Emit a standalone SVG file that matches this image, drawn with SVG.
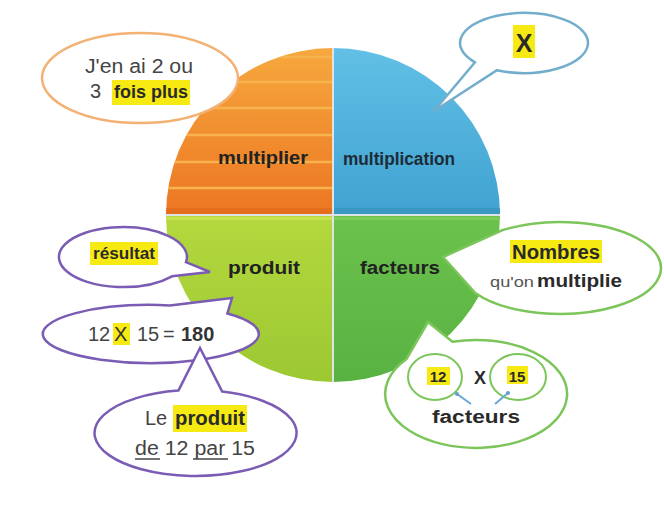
<svg xmlns="http://www.w3.org/2000/svg" width="664" height="524" viewBox="0 0 664 524">
<defs>
<linearGradient id="gOr" x1="0" y1="0" x2="0" y2="1"><stop offset="0" stop-color="#f6a83e"/><stop offset="1" stop-color="#ec7622"/></linearGradient>
<linearGradient id="gBl" x1="0" y1="0" x2="0" y2="1"><stop offset="0" stop-color="#62c0e6"/><stop offset="1" stop-color="#3fa2d0"/></linearGradient>
<linearGradient id="gYg" x1="0" y1="0" x2="0" y2="1"><stop offset="0" stop-color="#b4d83e"/><stop offset="1" stop-color="#9cc832"/></linearGradient>
<linearGradient id="gGr" x1="0" y1="0" x2="0" y2="1"><stop offset="0" stop-color="#6cc24c"/><stop offset="1" stop-color="#58b242"/></linearGradient>
<clipPath id="cOr"><path d="M333,215 L333,48 A167,167 0 0 0 166,215 Z"/></clipPath>
<marker id="dot" markerWidth="4" markerHeight="4" refX="2" refY="2" markerUnits="userSpaceOnUse"><circle cx="2" cy="2" r="2" fill="#5e9fd6"/></marker>
<style>
text{font-family:"Liberation Sans",Arial,sans-serif}
.lab{font-weight:bold;fill:#222;font-size:18px;text-anchor:middle}
.reg{fill:#444;font-size:20px}
.b{font-weight:bold;fill:#2a2a2a}
.hl{fill:#f7ea12}
.bor{fill:#fff;stroke:#f3b274;stroke-width:2.5}
.bbl{fill:#fff;stroke:#72aecb;stroke-width:2.5}
.bpu{fill:#fff;stroke:#7b5cb4;stroke-width:2.5}
.bgr{fill:#fff;stroke:#7cc55a;stroke-width:2.5}
.ring{fill:none;stroke:#7cc55a;stroke-width:2}
.con{stroke:#6aa6d6;stroke-width:2;fill:none}
</style>
</defs>
<rect width="664" height="524" fill="#fff"/>

<g id="q-multiplier">
<path d="M333,215 L333,48 A167,167 0 0 0 166,215 Z" fill="url(#gOr)"/>
<g clip-path="url(#cOr)" stroke="#f8b24e" stroke-width="2.5">
<line x1="160" y1="57" x2="335" y2="57"/><line x1="160" y1="82" x2="335" y2="82"/><line x1="160" y1="108" x2="335" y2="108"/><line x1="160" y1="135" x2="335" y2="135"/><line x1="160" y1="162" x2="335" y2="162"/><line x1="160" y1="188" x2="335" y2="188"/>
</g>
<rect x="166" y="208" width="167" height="7" fill="#e56e1e" clip-path="url(#cOr)"/>
<text class="lab" x="263" y="164" textLength="90" lengthAdjust="spacingAndGlyphs">multiplier</text>
</g>

<g id="q-multiplication">
<path d="M333,215 L333,48 A167,167 0 0 1 500,215 Z" fill="url(#gBl)"/>
<path d="M333,208 L499.8,208 A167,167 0 0 1 500,215 L333,215 Z" fill="#3a98c4"/>
<text class="lab" x="399" y="165" font-size="15" textLength="112" lengthAdjust="spacingAndGlyphs" style="fill:#1d2b36">multiplication</text>
</g>

<g id="q-produit">
<path d="M333,215 L333,382 A167,167 0 0 1 166,215 Z" fill="url(#gYg)"/>
<path d="M166,217 L333,217 L333,220 L166.1,220 Z" fill="#c6e24e"/>
<text class="lab" x="264" y="274" textLength="72" lengthAdjust="spacingAndGlyphs">produit</text>
</g>

<g id="q-facteurs">
<path d="M333,215 L333,382 A167,167 0 0 0 500,215 Z" fill="url(#gGr)"/>
<path d="M333,217 L500,217 L499.9,220 L333,220 Z" fill="#7ccc5a"/>
<text class="lab" x="400" y="274" textLength="80" lengthAdjust="spacingAndGlyphs">facteurs</text>
</g>

<g id="dividers" stroke="#dfe3e6" stroke-width="2">
<line x1="333" y1="48" x2="333" y2="382"/>
<line x1="166" y1="215" x2="500" y2="215"/>
</g>

<g id="bubble-fois-plus">
<ellipse class="bor" cx="140" cy="78" rx="98" ry="45"/>
<text class="reg" x="139" y="73" text-anchor="middle" textLength="108" lengthAdjust="spacingAndGlyphs">J'en ai 2 ou</text>
<text class="reg" x="90" y="98">3</text>
<rect class="hl" x="112" y="80" width="78" height="25"/>
<text class="b" x="151" y="98" font-size="18" text-anchor="middle" textLength="74" lengthAdjust="spacingAndGlyphs">fois plus</text>
</g>

<g id="bubble-x">
<path class="bbl" d="M475,62.3 L434,111 L497,70.2 A64,30 0 1 0 475,62.3 Z"/>
<rect class="hl" x="513" y="25" width="22" height="33"/>
<text class="b" x="524" y="52" font-size="25" text-anchor="middle">X</text>
</g>

<g id="bubble-resultat">
<path class="bpu" d="M186,262.2 L210,272 L172,276.3 A64,30 0 1 1 186,262.2 Z"/>
<rect class="hl" x="90" y="242" width="68" height="23"/>
<text class="b" x="124" y="259" font-size="16" text-anchor="middle" textLength="62" lengthAdjust="spacingAndGlyphs">résultat</text>
</g>

<g id="bubble-calcul">
<path class="bpu" d="M169.8,305.4 L232,298 L227.4,313.5 A108,29 0 1 1 169.8,305.4 Z"/>
<rect class="hl" x="113" y="323" width="17" height="22"/>
<text class="reg" y="341"><tspan x="88">12</tspan><tspan x="114" style="fill:#333">X</tspan><tspan x="137">15</tspan><tspan x="163">=</tspan><tspan x="181" font-weight="bold" style="fill:#333">180</tspan></text>
</g>

<g id="bubble-produit">
<path class="bpu" d="M178.4,390.6 L200,348 L222.2,391.5 A101,43 0 1 1 178.4,390.6 Z"/>
<text class="reg" x="145" y="425">Le</text>
<rect class="hl" x="173" y="405" width="74" height="27"/>
<text class="b" x="210" y="425" font-size="20" text-anchor="middle" textLength="70" lengthAdjust="spacingAndGlyphs">produit</text>
<text class="reg" x="135" y="455" textLength="120" lengthAdjust="spacingAndGlyphs">de 12 par 15</text>
<g stroke="#444" stroke-width="1.5"><line x1="135" y1="459" x2="160" y2="459"/><line x1="193" y1="459" x2="228" y2="459"/></g>
</g>

<g id="bubble-nombres">
<path class="bgr" d="M502,230.3 L443,257 L475.3,293 A101,46 0 1 0 502,230.3 Z"/>
<rect class="hl" x="510" y="240" width="92" height="23"/>
<text class="b" x="556" y="259" font-size="20" text-anchor="middle" textLength="88" lengthAdjust="spacingAndGlyphs">Nombres</text>
<text x="490" y="287" font-size="14" fill="#555" textLength="44" lengthAdjust="spacingAndGlyphs">qu'on</text>
<text class="b" x="537" y="287" font-size="18" textLength="85" lengthAdjust="spacingAndGlyphs">multiplie</text>
</g>

<g id="bubble-facteurs">
<path class="bgr" d="M406.3,359.3 L428,322 L452.4,341.8 A91,54 0 1 1 406.3,359.3 Z"/>
<ellipse class="ring" cx="435" cy="377" rx="27" ry="23"/>
<ellipse class="ring" cx="518" cy="377" rx="28" ry="23"/>
<rect class="hl" x="427" y="367" width="23" height="18"/>
<text class="b" x="438" y="382" font-size="15" text-anchor="middle">12</text>
<text class="b" x="480" y="384" font-size="18" text-anchor="middle">X</text>
<rect class="hl" x="507" y="366" width="21" height="18"/>
<text class="b" x="517" y="382" font-size="15" text-anchor="middle">15</text>
<text class="b" x="476" y="423" font-size="18" text-anchor="middle" textLength="88" lengthAdjust="spacingAndGlyphs">facteurs</text>
</g>

<g id="connectors">
<line class="con" x1="457" y1="394" x2="471" y2="404" marker-start="url(#dot)"/>
<line class="con" x1="508" y1="393" x2="495" y2="404" marker-start="url(#dot)"/>
</g>
</svg>
